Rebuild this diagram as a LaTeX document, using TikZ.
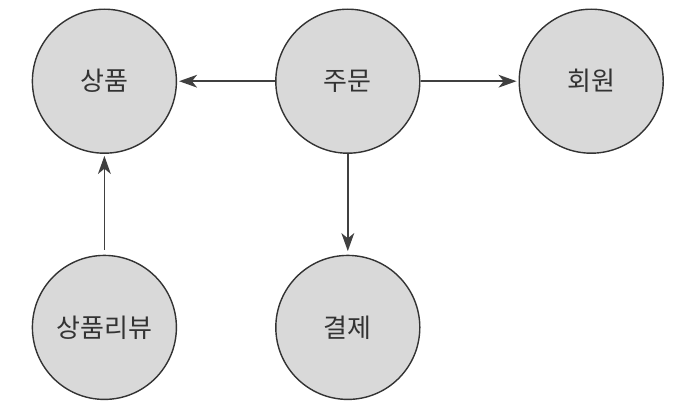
\documentclass[tikz,border=0pt]{standalone}
\usepackage{fontspec}
\setmainfont{Noto Sans CJK KR}
\usetikzlibrary{arrows.meta, positioning}

\begin{document}
\begin{tikzpicture}[
    node distance=2.45cm and 2.45cm,
    entity/.style={
        circle, draw=black!80, line width=1pt,
        fill=black!15, minimum size=3.6cm, inner sep=0pt,
        text=black!80, font=\fontsize{18.5}{20}\selectfont
    },
    rel/.style={draw=black!75, line width=1.2pt,
        -{Stealth[length=4.5mm, width=3.2mm, inset=1.3mm]},
        shorten >=0.05cm}
]
\useasboundingbox (0,0) rectangle (17.1,-10.125);

\node [entity] (product) at (2.61,-2.03) {상품};
\node [entity, right=of product] (order) {주문};
\node [entity, right=of order] (member) {회원};
\node [entity, below=2.52cm of product] (review) {상품리뷰};
\node [entity, below=2.52cm of order] (payment) {결제};

\draw [rel] (order) -- (product);
\draw [rel] (order) -- (member);
\draw [rel, shorten >=0.09cm] (order) -- (payment);
\draw [rel, shorten <=0.12cm] (review) -- (product);
\end{tikzpicture}
\end{document}
